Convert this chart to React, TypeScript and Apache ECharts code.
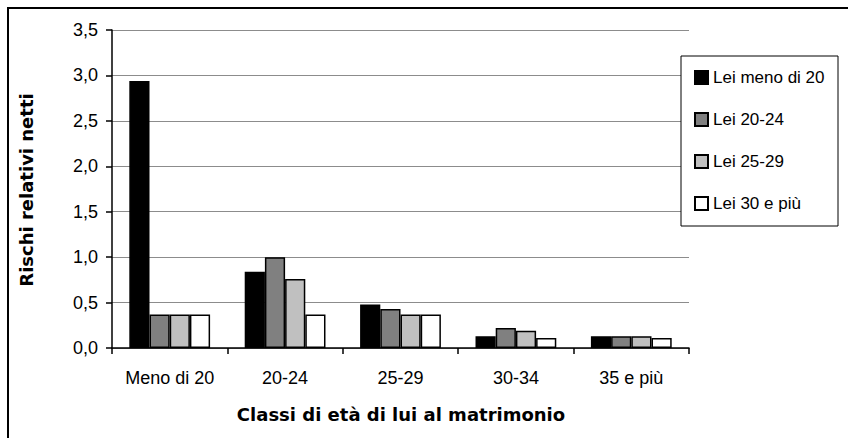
import React, { useEffect, useRef } from "react";
import * as echarts from "echarts";

const categories = ["Meno di 20", "20-24", "25-29", "30-34", "35 e più"];
const seriesNames = ["Lei meno di 20", "Lei 20-24", "Lei 25-29", "Lei 30 e più"];
const leiMenoDi20 = [2.94, 0.84, 0.48, 0.13, 0.13];
const lei2024 = [0.37, 1.0, 0.43, 0.22, 0.13];
const lei2529 = [0.37, 0.76, 0.37, 0.19, 0.13];
const lei30Piu = [0.37, 0.37, 0.37, 0.11, 0.11];
const seriesValues = [leiMenoDi20, lei2024, lei2529, lei30Piu];
const seriesColors = ["#000000", "#808080", "#c0c0c0", "#ffffff"];
const yTitle = "Rischi relativi netti";
const xTitle = "Classi di età di lui al matrimonio";

const FONT = "'Liberation Sans', Arial, sans-serif";
const BOLD_FONT = "'DejaVu Sans', 'Liberation Sans', sans-serif";

export default function App() {
  const ref = useRef<HTMLDivElement>(null);
  useEffect(() => {
    if (!ref.current) return;
    const chart = echarts.init(ref.current, undefined, { renderer: "svg" });
    chart.setOption({
      animation: false,
      backgroundColor: "#ffffff",
      grid: { left: 112, right: 159, top: 30, bottom: 90, containLabel: false },
      xAxis: {
        type: "category",
        data: categories,
        axisLine: { lineStyle: { color: "#000", width: 1.5 } },
        axisTick: { show: true, length: 6, lineStyle: { color: "#000", width: 1.5 } },
        axisLabel: { color: "#000", fontSize: 18, fontFamily: FONT, margin: 21, interval: 0, hideOverlap: false },
      },
      yAxis: {
        type: "value",
        min: 0,
        max: 3.5,
        interval: 0.5,
        axisLine: { show: true, lineStyle: { color: "#000", width: 1.5 } },
        axisTick: { show: true, length: 6, lineStyle: { color: "#000", width: 1.5 } },
        axisLabel: {
          color: "#000",
          fontSize: 18,
          fontFamily: FONT,
          margin: 14,
          formatter: (v: number) => v.toFixed(1).replace(".", ","),
        },
        splitLine: { show: true, lineStyle: { color: "#8c8c8c", width: 1 } },
      },
      legend: {
        orient: "vertical",
        left: 694,
        top: 69,
        itemWidth: 13,
        itemHeight: 13,
        itemGap: 25,
        padding: 0,
        z: 5,
        textStyle: { color: "#000", fontSize: 17, fontFamily: FONT, lineHeight: 16 },
        data: seriesNames.map((n) => ({ name: n, icon: "rect" })),
      },
      series: seriesNames.map((name, i) => ({
        name,
        type: "bar",
        data: seriesValues[i],
        barGap: "0%",
        barCategoryGap: "30%",
        itemStyle: { color: seriesColors[i], borderColor: "#000", borderWidth: 1.5 },
      })),
      graphic: [
        {
          type: "rect",
          z: 0,
          shape: { x: 8, y: 8, width: 900, height: 500 },
          style: { fill: "none", stroke: "#000", lineWidth: 2 },
        },
        {
          type: "rect",
          z: 3,
          shape: { x: 681, y: 56, width: 157, height: 170 },
          style: { fill: "#fff", stroke: "#000", lineWidth: 1 },
        },
        {
          type: "text",
          x: 26,
          y: 190,
          rotation: Math.PI / 2,
          style: {
            text: yTitle,
            fill: "#000",
            font: `bold 18px ${BOLD_FONT}`,
            textAlign: "center",
            textVerticalAlign: "middle",
          },
        },
        {
          type: "text",
          x: 401,
          y: 414,
          style: {
            text: xTitle,
            fill: "#000",
            font: `bold 18px ${BOLD_FONT}`,
            textAlign: "center",
            textVerticalAlign: "middle",
          },
        },
      ],
    });
    return () => chart.dispose();
  }, []);
  return (
    <div
      ref={ref}
      style={{ position: "fixed", left: 0, top: 0, width: 848, height: 438 }}
    />
  );
}
